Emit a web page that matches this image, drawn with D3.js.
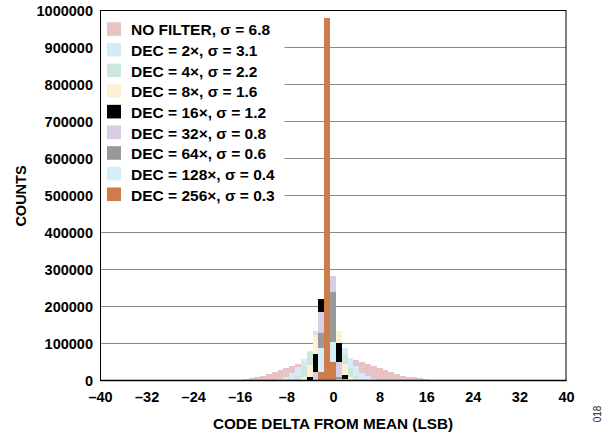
<!DOCTYPE html>
<html><head><meta charset="utf-8">
<script src="https://cdn.jsdelivr.net/npm/d3@7"></script>
<style>
html,body{margin:0;padding:0;background:#fff;}
svg{display:block;font-family:"Liberation Sans",Arial,Helvetica,sans-serif;}
</style></head><body>
<svg id="chart" width="613" height="437"></svg>
<script>
// Histogram bins: code delta from mean (LSB)
const bins = [-16,-15,-14,-13,-12,-11,-10,-9,-8,-7,-6,-5,-4,-3,-2,-1,0,1,2,3,4,5,6,7,8,9,10,11,12,13,14,15,16];

// Counts per bin for each setting
const noFilter = [0,5000,7000,9500,12500,17500,22500,29000,33000,38500,44000,50500,54500,57500,60000,61500,62000,61500,60000,57500,55000,50500,45500,39500,33500,27500,22500,18000,13500,10500,8500,6500,4800];
const dec2   = [0,0,0,0,200,600,1800,4500,10000,20000,35500,57000,81000,107000,127000,135000,129500,111500,87500,61500,38500,21500,11000,5000,2000,700,200,0,0,0,0,0,0];
const dec4   = [0,0,0,0,0,0,0,300,1400,5200,16000,40000,76000,133000,175000,190000,168000,121000,68000,33500,13000,4100,1000,200,0,0,0,0,0,0,0,0,0];
const dec8   = [0,0,0,0,0,0,0,0,0,0,1500,9000,43000,123000,212000,255000,215000,134000,44000,10000,1500,0,0,0,0,0,0,0,0,0,0,0,0];
const dec16  = [0,0,0,0,0,0,0,0,0,0,0,500,9000,71000,219000,340000,270000,100500,15000,1500,0,0,0,0,0,0,0,0,0,0,0,0,0];
const dec32  = [0,0,0,0,0,0,0,0,0,0,0,0,1000,22000,186000,490000,282000,51000,3000,0,0,0,0,0,0,0,0,0,0,0,0,0,0];
const dec64  = [0,0,0,0,0,0,0,0,0,0,0,0,0,1500,127500,670000,240000,9000,0,0,0,0,0,0,0,0,0,0,0,0,0,0,0];
const dec128 = [0,0,0,0,0,0,0,0,0,0,0,0,0,0,87000,855000,105000,3000,0,0,0,0,0,0,0,0,0,0,0,0,0,0,0];
const dec256 = [0,0,0,0,0,0,0,0,0,0,0,0,0,0,24000,980000,51000,0,0,0,0,0,0,0,0,0,0,0,0,0,0,0,0];

const seriesLabels = ["NO FILTER, σ = 6.8","DEC = 2×, σ = 3.1","DEC = 4×, σ = 2.2","DEC = 8×, σ = 1.6","DEC = 16×, σ = 1.2","DEC = 32×, σ = 0.8","DEC = 64×, σ = 0.6","DEC = 128×, σ = 0.4","DEC = 256×, σ = 0.3"];
const seriesColors = ["#e6c4c4","#d5ecf8","#cde8da","#fef0d4","#000000","#d8cce6","#999999","#d6eefa","#cd7d4b"];
const seriesValues = [noFilter,dec2,dec4,dec8,dec16,dec32,dec64,dec128,dec256];

const xTicks = [-40,-32,-24,-16,-8,0,8,16,24,32,40];
const xTickLabels = ["–40","–32","–24","–16","–8","0","8","16","24","32","40"];
const yTicks = [0,100000,200000,300000,400000,500000,600000,700000,800000,900000,1000000];
const yTickLabels = ["0","100000","200000","300000","400000","500000","600000","700000","800000","900000","1000000"];

const L=100, R=566, T=10.5, B=380.5;
const x = d3.scaleLinear().domain([-40,40]).range([L,R]);
const y = d3.scaleLinear().domain([0,1000000]).range([B,T]);
const svg = d3.select('#chart');

// gridlines
svg.append('g').selectAll('line').data(yTicks.filter(v=>v>0 && v<1000000)).join('line')
  .attr('x1',L).attr('x2',R).attr('y1',d=>y(d)).attr('y2',d=>y(d))
  .attr('stroke','#8a8a8a').attr('stroke-width',1);

// bars, series drawn in order (later ones on top)
const barsG = svg.append('g').attr('shape-rendering','crispEdges');
seriesValues.forEach((vals,si)=>{
  const data = bins.map((b,i)=>({b, v: vals[i]})).filter(d=>d.v>0);
  barsG.append('g').selectAll('rect').data(data).join('rect')
    .attr('x',d=>x(d.b-0.5))
    .attr('width',d=>x(d.b+0.5)-x(d.b-0.5))
    .attr('y',d=>y(d.v))
    .attr('height',d=>y(0)-y(d.v))
    .attr('fill',seriesColors[si]);
});

// legend (white background covers gridlines)
const lg = svg.append('g');
lg.append('rect').attr('x',L+0.5).attr('y',T+0.5).attr('width',284-L).attr('height',196).attr('fill','#fff');
seriesLabels.forEach((lab,i)=>{
  const cy = 29 + i*20.66;
  lg.append('rect').attr('x',107).attr('y',cy-6.8).attr('width',14).attr('height',13.6).attr('fill',seriesColors[i]);
  lg.append('text').attr('x',131).attr('y',cy+6.3).attr('font-size','15.5px').attr('font-weight','bold').attr('fill','#000').text(lab);
});

// frame
svg.append('rect').attr('x',L+0.5).attr('y',T).attr('width',R-L-0.5).attr('height',B-T)
  .attr('fill','none').attr('stroke','#000').attr('stroke-width',1);
svg.append('line').attr('x1',L).attr('x2',R+0.5).attr('y1',B).attr('y2',B).attr('stroke','#000').attr('stroke-width',1.6);

// axes
const yAxis = d3.axisLeft(y).tickValues(yTicks).tickSize(0).tickPadding(7).tickFormat((d,i)=>yTickLabels[i]);
const gy = svg.append('g').attr('transform',`translate(${L},0)`).call(yAxis);
gy.select('.domain').remove();
gy.selectAll('text').attr('font-size','14.5px').attr('font-weight','bold').attr('fill','#000').attr('font-family','"Liberation Sans",Arial,sans-serif');

const xAxis = d3.axisBottom(x).tickValues(xTicks).tickSize(0).tickPadding(11.5).tickFormat((d,i)=>xTickLabels[i]);
const gx = svg.append('g').attr('transform',`translate(0,${B})`).call(xAxis);
gx.select('.domain').remove();
gx.selectAll('text').attr('font-size','14.5px').attr('font-weight','bold').attr('fill','#000').attr('font-family','"Liberation Sans",Arial,sans-serif');

// axis titles
svg.append('text').attr('x',333).attr('y',428.5).attr('text-anchor','middle')
  .attr('font-size','15.3px').attr('font-weight','bold').text('CODE DELTA FROM MEAN (LSB)');
svg.append('text').attr('transform','translate(25.5,196) rotate(-90)').attr('text-anchor','middle')
  .attr('font-size','14.5px').attr('font-weight','bold').text('COUNTS');
svg.append('text').attr('transform','translate(601,414) rotate(-90)').attr('text-anchor','middle')
  .attr('font-size','10px').attr('fill','#222').text('018');
</script>
</body></html>
